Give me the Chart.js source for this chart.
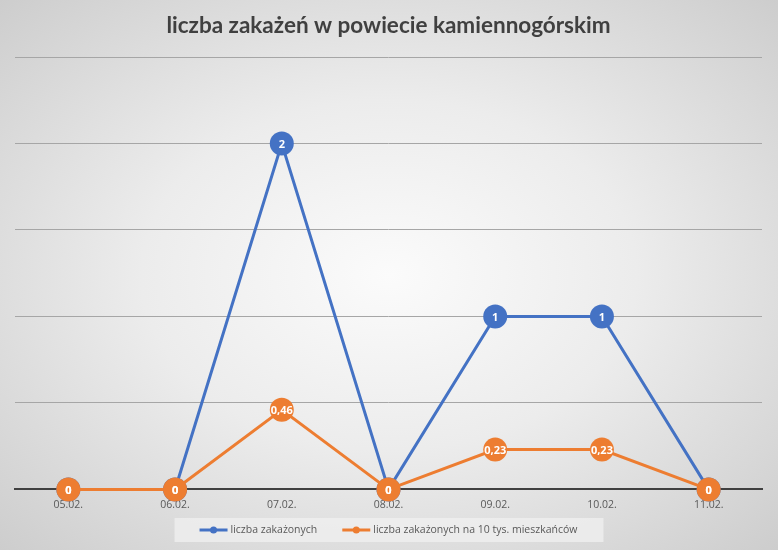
<!DOCTYPE html>
<html>
<head>
<meta charset="utf-8">
<script src="https://cdn.jsdelivr.net/npm/chart.js@4"></script>
<style>
  html, body { margin: 0; padding: 0; }
  body {
    width: 778px; height: 550px; overflow: hidden;
    background: radial-gradient(ellipse at center, #fbfbfb 0%, #ececec 45%, #cdcdcd 100%);
  }
  #wrap { position: relative; width: 778px; height: 550px; }
</style>
</head>
<body>
<div id="wrap"><canvas id="myLineChart"></canvas></div>
<script>
var labels = ['05.02.', '06.02.', '07.02.', '08.02.', '09.02.', '10.02.', '11.02.'];
var zakazeni = [0, 0, 2, 0, 1, 1, 0];
var naDziesiecTys = [0, 0, 0.46, 0, 0.23, 0.23, 0];

// white numbers drawn inside every marker
var pointLabels = {
    id: 'pointLabels',
    afterDatasetsDraw: function (chart) {
        var c = chart.ctx;
        c.save();
        c.font = 'bold 11px "Open Sans", sans-serif';
        c.fillStyle = '#ffffff';
        c.textAlign = 'center';
        c.textBaseline = 'middle';
        [0, 1].forEach(function (i) {
            var meta = chart.getDatasetMeta(i);
            var ds = chart.data.datasets[i];
            meta.data.forEach(function (pt, j) {
                c.fillText(String(ds.data[j]).replace('.', ','), pt.x, pt.y + 1);
            });
        });
        c.restore();
    }
};

// legend drawn by hand: light box, line with a dot, label
var bottomLegend = {
    id: 'bottomLegend',
    afterDraw: function (chart) {
        var c = chart.ctx;
        var sets = chart.data.datasets;
        c.save();
        c.font = '10.5px "Open Sans", sans-serif';
        var itemW = sets.map(function (ds) { return 32 + c.measureText(ds.label).width; });
        var gap = 24;
        var total = itemW.reduce(function (a, b) { return a + b; }, 0) + gap;
        var boxW = total + 50;
        var cx = chart.width / 2;
        var top = 518, h = 24;
        c.fillStyle = 'rgba(240,240,240,0.75)';
        c.fillRect(cx - boxW / 2, top, boxW, h);
        var x = cx - total / 2;
        var y = top + h / 2;
        sets.forEach(function (ds, i) {
            c.strokeStyle = ds.borderColor;
            c.lineWidth = 3;
            c.beginPath();
            c.moveTo(x, y);
            c.lineTo(x + 28, y);
            c.stroke();
            c.fillStyle = ds.borderColor;
            c.beginPath();
            c.arc(x + 14, y, 3.5, 0, Math.PI * 2);
            c.fill();
            c.fillStyle = '#595959';
            c.textAlign = 'left';
            c.textBaseline = 'middle';
            c.fillText(ds.label, x + 31, y);
            x += itemW[i] + gap;
        });
        c.restore();
    }
};

var ctx = document.getElementById('myLineChart').getContext('2d');
var myLineChart = new Chart(ctx, {
    type: 'line',
    data: {
        labels: labels,
        datasets: [{
            label: 'liczba zakażonych',
            data: zakazeni,
            borderColor: '#4472C4',
            backgroundColor: '#4472C4',
            borderWidth: 3,
            pointRadius: 12,
            pointHoverRadius: 12,
            pointBorderWidth: 0,
            tension: 0,
            clip: false,
            order: 2
        }, {
            label: 'liczba zakażonych na 10 tys. mieszkańców',
            data: naDziesiecTys,
            borderColor: '#ED7D31',
            backgroundColor: '#ED7D31',
            borderWidth: 3,
            pointRadius: 12,
            pointHoverRadius: 12,
            pointBorderWidth: 0,
            tension: 0,
            clip: false,
            order: 1
        }]
    },
    options: {
        responsive: true,
        maintainAspectRatio: false,
        animation: false,
        layout: { padding: { left: 15, right: 16, top: 0, bottom: 38 } },
        plugins: {
            title: {
                display: true,
                text: 'liczba zakażeń w powiecie kamiennogórskim',
                color: '#404040',
                font: { family: 'Lato, "Open Sans", sans-serif', size: 22.5, weight: 'bold' },
                padding: { top: 12, bottom: 18 }
            },
            legend: { display: false },
            tooltip: { enabled: false }
        },
        scales: {
            x: {
                offset: true,
                grid: { display: false },
                border: { color: '#404040', width: 2 },
                ticks: { color: '#595959', font: { family: '"Open Sans", sans-serif', size: 10.5 }, padding: 1 }
            },
            y: {
                min: 0,
                max: 2.5,
                ticks: { display: false, stepSize: 0.5 },
                border: { display: false },
                grid: { color: '#a6a6a6', drawTicks: false }
            }
        }
    },
    plugins: [bottomLegend, pointLabels]
});
</script>
</body>
</html>
